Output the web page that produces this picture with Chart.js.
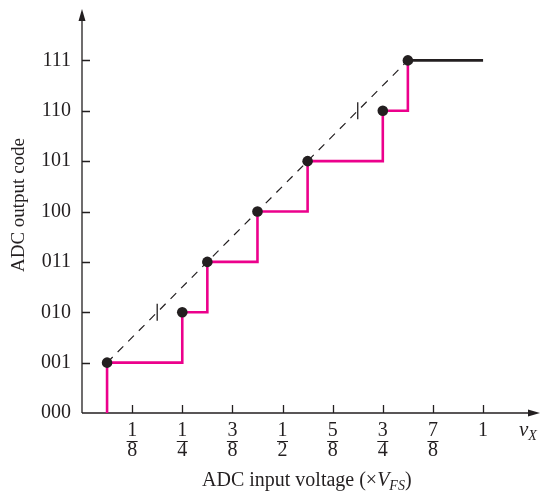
<!DOCTYPE html>
<html>
<head>
<meta charset="utf-8">
<script src="https://cdn.jsdelivr.net/npm/chart.js@4"></script>
<style>
body { margin: 0; background: #fff; }
</style>
</head>
<body>
<canvas id="grafico" width="541" height="491"></canvas>
<script>
// ------------ Dados ------------ //

var codigos = ['000', '001', '010', '011', '100', '101', '110', '111'];
var xTicks = [1/8, 2/8, 3/8, 4/8, 5/8, 6/8, 7/8, 1];
var xTickLabels = [['1','8'], ['1','4'], ['3','8'], ['1','2'], ['5','8'], ['3','4'], ['7','8'], '1'];
var transicoes = [1/16, 4/16, 5/16, 7/16, 9/16, 12/16, 13/16]; // entrada onde cada codigo comeca
var codigoNivel = [1, 2, 3, 4, 5, 6, 7];
var fimEscala = 1;
var marcasX = [3/16, 11/16];
var marcasY = [2, 6];

var preto = '#231f20';
var rosa = '#ec008c';
var fonte = '"Liberation Serif", "Times New Roman", serif';

// ------------ Series montadas a partir dos dados ------------ //

var ultimo = transicoes.length - 1;
var pontos = transicoes.map(function (t, i) { return { x: t, y: codigoNivel[i] }; });
var degraus = [{ x: transicoes[0], y: 0 }].concat(pontos);
var ideal = [pontos[0], pontos[ultimo]];
var topo = [pontos[ultimo], { x: fimEscala, y: codigoNivel[ultimo] }];
var marcas = marcasX.map(function (x, i) { return { x: x, y: marcasY[i] }; });

// ------------ Plugin: eixos, setas, frações e títulos ------------ //

var eixos = {
    id: 'eixos',
    beforeDatasetsDraw: function (chart) {
        var ctx = chart.ctx, a = chart.chartArea;
        var sx = chart.scales.x, sy = chart.scales.y;
        var fimX = chart.width - 5; // eixo x vai quase ate a borda
        ctx.save();
        ctx.strokeStyle = preto;
        ctx.fillStyle = preto;
        ctx.lineWidth = 1.3;
        ctx.beginPath();
        ctx.moveTo(a.left, a.bottom);
        ctx.lineTo(fimX, a.bottom);
        ctx.moveTo(a.left, a.bottom);
        ctx.lineTo(a.left, a.top + 6);
        // marcas de escala
        xTicks.forEach(function (v) {
            var px = Math.round(sx.getPixelForValue(v)) + 0.5;
            ctx.moveTo(px, a.bottom);
            ctx.lineTo(px, a.bottom - 8);
        });
        codigos.forEach(function (c, i) {
            if (i === 0) return;
            var py = Math.round(sy.getPixelForValue(i)) + 0.5;
            ctx.moveTo(a.left, py);
            ctx.lineTo(a.left + 8, py);
        });
        ctx.stroke();
        // setas
        ctx.beginPath();
        ctx.moveTo(fimX + 4, a.bottom);
        ctx.lineTo(fimX - 8, a.bottom - 3.5);
        ctx.lineTo(fimX - 8, a.bottom + 3.5);
        ctx.closePath();
        ctx.fill();
        ctx.beginPath();
        ctx.moveTo(a.left, a.top - 1);
        ctx.lineTo(a.left - 3.5, a.top + 11);
        ctx.lineTo(a.left + 3.5, a.top + 11);
        ctx.closePath();
        ctx.fill();
        ctx.restore();
    },
    afterDraw: function (chart) {
        var ctx = chart.ctx;
        var sx = chart.scales.x;
        ctx.save();
        ctx.strokeStyle = preto;
        ctx.fillStyle = preto;
        // barras das frações
        ctx.lineWidth = 1;
        ctx.beginPath();
        xTicks.forEach(function (v, i) {
            if (!Array.isArray(xTickLabels[i])) return;
            var px = sx.getPixelForValue(v);
            ctx.moveTo(px - 5.5, 441.5);
            ctx.lineTo(px + 5.5, 441.5);
        });
        ctx.stroke();

        // titulo do eixo y
        ctx.save();
        ctx.translate(19, 205);
        ctx.rotate(-Math.PI / 2);
        ctx.font = '19px ' + fonte;
        ctx.textAlign = 'center';
        ctx.textBaseline = 'middle';
        ctx.fillText('ADC output code', 0, 0);
        ctx.restore();

        // titulo do eixo x, com V em italico e FS subscrito
        var partes = [
            { t: 'ADC input voltage (\u00d7', f: '20px ' + fonte, dy: 0 },
            { t: 'V', f: 'italic 20px ' + fonte, dy: 0 },
            { t: 'FS', f: 'italic 14px ' + fonte, dy: 4 },
            { t: ')', f: '20px ' + fonte, dy: 0 }
        ];
        partes.forEach(function (p) { ctx.font = p.f; p.w = ctx.measureText(p.t).width; });
        var x0 = 202;
        ctx.textAlign = 'left';
        ctx.textBaseline = 'alphabetic';
        partes.forEach(function (p) {
            ctx.font = p.f;
            ctx.fillText(p.t, x0, 486 + p.dy);
            x0 += p.w;
        });

        // v_X na ponta do eixo x
        ctx.font = 'italic 21px ' + fonte;
        ctx.fillText('v', 519, 436);
        var wv = ctx.measureText('v').width;
        ctx.font = 'italic 14px ' + fonte;
        ctx.fillText('X', 519 + wv, 440);
        ctx.restore();
    }
};

// ------------ Gráfico ------------ //

var ctxGrafico = document.getElementById('grafico').getContext('2d');
var grafico = new Chart(ctxGrafico, {
    type: 'line',
    data: {
        datasets: [
            {
                data: pontos,
                showLine: false,
                pointRadius: 5.3,
                pointBackgroundColor: preto,
                pointBorderWidth: 0,
                order: 0
            },
            {
                data: degraus,
                stepped: 'before',
                borderColor: rosa,
                borderWidth: 2.6,
                pointRadius: 0,
                order: 1
            },
            {
                data: topo,
                borderColor: preto,
                borderWidth: 2.6,
                pointRadius: 0,
                order: 1
            },
            {
                data: ideal,
                borderColor: preto,
                borderWidth: 1.2,
                borderDash: [8, 7],
                pointRadius: 0,
                order: 2
            },
            {
                data: marcas,
                showLine: false,
                pointStyle: 'line',
                rotation: 90,
                pointRadius: 8.5,
                pointBorderColor: preto,
                pointBorderWidth: 1.3,
                order: 2
            }
        ]
    },
    options: {
        responsive: false,
        animation: false,
        devicePixelRatio: 1,
        layout: { padding: { top: 10, right: 0, left: 0, bottom: 0 } },
        plugins: {
            legend: { display: false },
            tooltip: { enabled: false }
        },
        scales: {
            x: {
                type: 'linear',
                min: 0,
                max: 1.12,
                grid: { display: false, drawTicks: false },
                border: { display: false },
                afterBuildTicks: function (s) {
                    s.ticks = xTicks.map(function (v) { return { value: v }; });
                },
                afterFit: function (s) {
                    s.height = 78;
                    s.paddingLeft = 0;
                    s.paddingRight = 0;
                },
                ticks: {
                    autoSkip: false,
                    maxRotation: 0,
                    padding: 8,
                    color: preto,
                    font: { family: fonte, size: 20, lineHeight: '20px' },
                    callback: function (v, i) { return xTickLabels[i]; }
                }
            },
            y: {
                min: 0,
                max: 8,
                grid: { display: false, drawTicks: false },
                border: { display: false },
                afterBuildTicks: function (s) {
                    s.ticks = codigos.map(function (c, i) { return { value: i }; });
                },
                afterFit: function (s) {
                    s.width = 82;
                    s.paddingTop = 0;
                    s.paddingBottom = 0;
                },
                ticks: {
                    padding: 11,
                    color: preto,
                    font: { family: fonte, size: 20 },
                    callback: function (v, i) { return codigos[i]; }
                }
            }
        }
    },
    plugins: [eixos]
});
</script>
</body>
</html>
